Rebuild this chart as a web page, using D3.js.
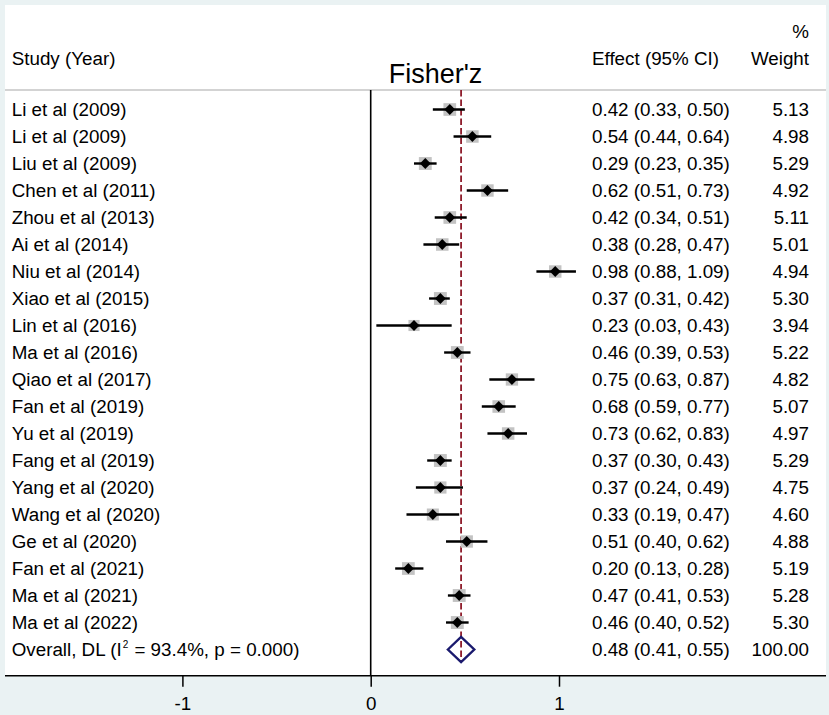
<!DOCTYPE html>
<html>
<head>
<meta charset="utf-8">
<script src="https://cdn.jsdelivr.net/npm/d3@7"></script>
<style>
  html, body { margin: 0; padding: 0; background: #EAF2F3; }
  svg { display: block; }
  text { font-family: "Liberation Sans", Arial, sans-serif; fill: #000; }
</style>
</head>
<body>
<svg id="chart" width="829" height="715"></svg>
<script>
const studies = ["Li et al (2009)", "Li et al (2009)", "Liu et al (2009)", "Chen et al (2011)", "Zhou et al (2013)",
  "Ai et al (2014)", "Niu et al (2014)", "Xiao et al (2015)", "Lin et al (2016)", "Ma et al (2016)",
  "Qiao et al (2017)", "Fan et al (2019)", "Yu et al (2019)", "Fang et al (2019)", "Yang et al (2020)",
  "Wang et al (2020)", "Ge et al (2020)", "Fan et al (2021)", "Ma et al (2021)", "Ma et al (2022)"];
const effects = [0.42, 0.54, 0.29, 0.62, 0.42, 0.38, 0.98, 0.37, 0.23, 0.46, 0.75, 0.68, 0.73, 0.37, 0.37, 0.33, 0.51, 0.20, 0.47, 0.46];
const lower   = [0.33, 0.44, 0.23, 0.51, 0.34, 0.28, 0.88, 0.31, 0.03, 0.39, 0.63, 0.59, 0.62, 0.30, 0.24, 0.19, 0.40, 0.13, 0.41, 0.40];
const upper   = [0.50, 0.64, 0.35, 0.73, 0.51, 0.47, 1.09, 0.42, 0.43, 0.53, 0.87, 0.77, 0.83, 0.43, 0.49, 0.47, 0.62, 0.28, 0.53, 0.52];
const weights = [5.13, 4.98, 5.29, 4.92, 5.11, 5.01, 4.94, 5.30, 3.94, 5.22, 4.82, 5.07, 4.97, 5.29, 4.75, 4.60, 4.88, 5.19, 5.28, 5.30];
const overall = { label: "Overall, DL", i2: "93.4%", p: "0.000", es: 0.48, lo: 0.41, hi: 0.55, w: 100.00 };
const xTicks = [-1, 0, 1];
const xTitle = "Fisher'z";

const svg = d3.select("#chart");
const panelL = 5, panelR = 826, panelT = 5, axisY = 675.7, headerY = 90;
const fs = 18.8;

// white plot panel
svg.append("rect").attr("x", panelL).attr("y", panelT).attr("width", panelR - panelL).attr("height", axisY - panelT).attr("fill", "#fff");

const x = d3.scaleLinear().domain([-1, 1]).range([182.4, 559]);
const rows = d3.range(studies.length + 1);
const y = d3.scalePoint().domain(rows).range([109.5, 649.5]);

const fmt = d3.format(".2f");

// header
svg.append("text").attr("x", 11.7).attr("y", 65).attr("font-size", fs).text("Study (Year)");
svg.append("text").attr("x", 592).attr("y", 65).attr("font-size", fs).text("Effect (95% CI)");
svg.append("text").attr("x", 809).attr("y", 38).attr("font-size", fs).attr("text-anchor", "end").text("%");
svg.append("text").attr("x", 809).attr("y", 65).attr("font-size", fs).attr("text-anchor", "end").text("Weight");
svg.append("text").attr("x", 435.5).attr("y", 83).attr("font-size", 27).attr("text-anchor", "middle").text(xTitle);

// header separator
svg.append("line").attr("x1", panelL).attr("x2", panelR).attr("y1", headerY).attr("y2", headerY)
  .attr("stroke", "#C4C4C4").attr("stroke-width", 1.5);

// zero line
svg.append("line").attr("x1", x(0)).attr("x2", x(0)).attr("y1", headerY).attr("y2", axisY)
  .attr("stroke", "#000").attr("stroke-width", 1.6);

// overall dashed line
svg.append("line").attr("x1", x(overall.es)).attr("x2", x(overall.es)).attr("y1", headerY).attr("y2", y(studies.length) + 12.5)
  .attr("stroke", "#8E1B2A").attr("stroke-width", 1.8).attr("stroke-dasharray", "6.5,3");

const data = studies.map((s, i) => ({ s, es: effects[i], lo: lower[i], hi: upper[i], w: weights[i], i }));

const g = svg.append("g");
// squares
g.selectAll("rect.box").data(data).join("rect").attr("class", "box")
  .attr("x", d => x(d.es) - 2.8 * Math.sqrt(d.w))
  .attr("y", d => y(d.i) - 2.8 * Math.sqrt(d.w))
  .attr("width", d => 5.6 * Math.sqrt(d.w))
  .attr("height", d => 5.6 * Math.sqrt(d.w))
  .attr("fill", "#C3C3C3");
// CI lines
g.selectAll("line.ci").data(data).join("line").attr("class", "ci")
  .attr("x1", d => x(d.lo)).attr("x2", d => x(d.hi))
  .attr("y1", d => y(d.i)).attr("y2", d => y(d.i))
  .attr("stroke", "#000").attr("stroke-width", 2.4);
// point diamonds
g.selectAll("path.pt").data(data).join("path").attr("class", "pt")
  .attr("d", d => { const cx = x(d.es), cy = y(d.i), r = 5.4; return `M${cx - r},${cy}L${cx},${cy - r}L${cx + r},${cy}L${cx},${cy + r}Z`; })
  .attr("fill", "#000");

// text columns
g.selectAll("text.st").data(data).join("text").attr("class", "st")
  .attr("x", 11.7).attr("y", d => y(d.i)).attr("dy", "0.35em").attr("font-size", fs).text(d => d.s);
g.selectAll("text.ef").data(data).join("text").attr("class", "ef")
  .attr("x", 592).attr("y", d => y(d.i)).attr("dy", "0.35em").attr("font-size", fs)
  .text(d => `${fmt(d.es)} (${fmt(d.lo)}, ${fmt(d.hi)})`);
g.selectAll("text.wt").data(data).join("text").attr("class", "wt")
  .attr("x", 809).attr("y", d => y(d.i)).attr("dy", "0.35em").attr("font-size", fs).attr("text-anchor", "end")
  .text(d => fmt(d.w));

// overall row
const oy = y(studies.length);
const base = oy + fs * 0.35;
const ot = svg.append("text").attr("x", 11.7).attr("y", base).attr("font-size", fs);
ot.append("tspan").text(overall.label + " (I");
ot.append("tspan").attr("font-size", 10).attr("dx", 1).attr("y", base - 8).text("2");
ot.append("tspan").attr("y", base).attr("dx", 1).text(` = ${overall.i2}, p = ${overall.p})`);

svg.append("text").attr("x", 592).attr("y", oy).attr("dy", "0.35em").attr("font-size", fs)
  .text(`${fmt(overall.es)} (${fmt(overall.lo)}, ${fmt(overall.hi)})`);
svg.append("text").attr("x", 809).attr("y", oy).attr("dy", "0.35em").attr("font-size", fs).attr("text-anchor", "end")
  .text(fmt(overall.w));

svg.append("path")
  .attr("d", `M${x(overall.lo)},${oy}L${x(overall.es)},${oy - 12.5}L${x(overall.hi)},${oy}L${x(overall.es)},${oy + 12.5}Z`)
  .attr("fill", "none").attr("stroke", "#1A1A6E").attr("stroke-width", 2.4);

// axis
const axis = d3.axisBottom(x).tickValues(xTicks).tickSize(11).tickPadding(10).tickFormat(d => d < 0 ? "-" + Math.abs(d) : String(d));
const ag = svg.append("g").attr("transform", `translate(0,${axisY})`).call(axis);
ag.select(".domain").remove();
ag.selectAll(".tick line").attr("stroke", "#000").attr("stroke-width", 1.5);
ag.selectAll(".tick text").attr("font-size", fs).attr("font-family", "'Liberation Sans', Arial, sans-serif").attr("fill", "#000");
svg.append("line").attr("x1", panelL).attr("x2", panelR).attr("y1", axisY).attr("y2", axisY)
  .attr("stroke", "#000").attr("stroke-width", 1.6);
</script>
</body>
</html>
